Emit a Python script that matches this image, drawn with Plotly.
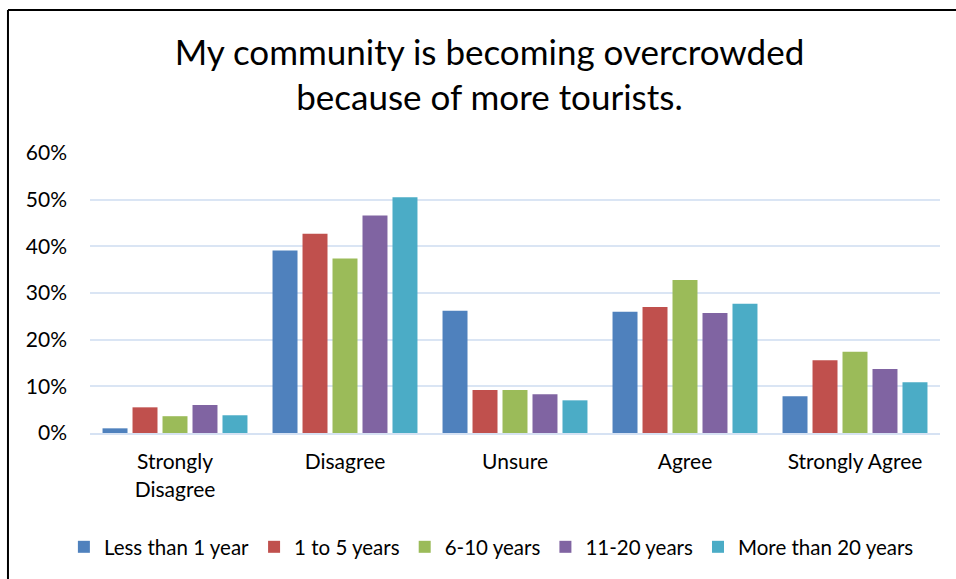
import plotly.graph_objects as go

# Survey responses by length of residence
categories = ["Strongly<br>Disagree", "Disagree", "Unsure", "Agree", "Strongly Agree"]
series_names = ["Less than 1 year", "1 to 5 years", "6-10 years", "11-20 years", "More than 20 years"]
less_than_1 = [0.010, 0.391, 0.262, 0.260, 0.079]
one_to_5 = [0.055, 0.427, 0.092, 0.270, 0.156]
six_to_10 = [0.036, 0.374, 0.092, 0.328, 0.174]
eleven_to_20 = [0.060, 0.466, 0.083, 0.257, 0.137]
more_than_20 = [0.038, 0.505, 0.070, 0.277, 0.109]
y_ticks = [0, 0.1, 0.2, 0.3, 0.4, 0.5, 0.6]
y_tick_labels = ["0%", "10%", "20%", "30%", "40%", "50%", "60%"]

colors = ["#4F81BD", "#C0504D", "#9BBB59", "#8064A2", "#4BACC6"]
values = [less_than_1, one_to_5, six_to_10, eleven_to_20, more_than_20]

FONT = "Lato"

fig = go.Figure()
for name, vals, col in zip(series_names, values, colors):
    fig.add_trace(go.Bar(
        x=categories, y=vals, name=name,
        marker=dict(color=col, line=dict(width=0)),
    ))

fig.update_layout(
    width=956, height=579,
    margin=dict(l=90, r=16, t=153, b=146, autoexpand=False),
    paper_bgcolor="white", plot_bgcolor="white",
    barmode="group", bargap=0.118, bargroupgap=0.167,
    title=dict(
        text="My community is becoming overcrowded<br>because of more tourists.",
        x=0.512, xanchor="center", y=0.888, yanchor="middle",
        font=dict(family=FONT, size=35, color="#000000"),
    ),
    font=dict(family=FONT, size=21, color="#000000"),
    showlegend=True,
    legend=dict(
        orientation="h", xref="container", yref="container",
        x=0.514, xanchor="center", y=0.0553, yanchor="middle",
        font=dict(family=FONT, size=20.5, color="#000000"),
        itemwidth=30, tracegroupgap=0,
    ),
    xaxis=dict(
        showgrid=False, showline=True, linecolor="#D6E2F3", linewidth=2,
        ticks="", ticklabelstandoff=9,
        tickfont=dict(family=FONT, size=21, color="#000000"),
    ),
    yaxis=dict(
        range=[0, 0.6], tickvals=y_ticks, ticktext=y_tick_labels,
        showgrid=True, gridcolor="#DAE5F4", gridwidth=2,
        zeroline=False, showline=False, ticks="", ticklabelstandoff=22,
        tickfont=dict(family=FONT, size=21, color="#000000"),
    ),
    shapes=[
        # chart frame: top and left edges
        dict(type="line", xref="paper", yref="paper",
             x0=-0.0965, x1=1.1, y0=1.5107, y1=1.5107,
             line=dict(color="#000000", width=2)),
        dict(type="line", xref="paper", yref="paper",
             x0=-0.0965, x1=-0.0965, y0=1.5107, y1=-0.6,
             line=dict(color="#000000", width=2)),
    ],
)

fig.write_html("out.html")
